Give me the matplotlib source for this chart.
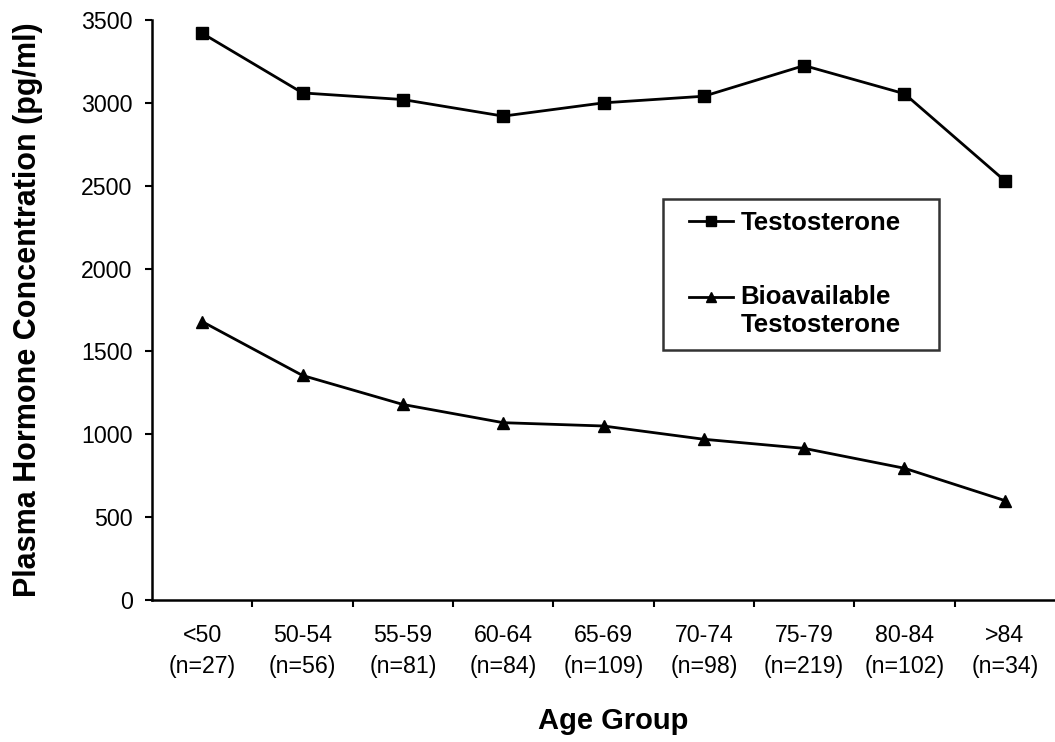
import numpy as np
import matplotlib.pyplot as plt
from matplotlib.legend_handler import HandlerLine2D

plt.rcParams['font.family'] = ['Liberation Sans', 'DejaVu Sans']

# data
age_groups = ['<50\n(n=27)', '50-54\n(n=56)', '55-59\n(n=81)', '60-64\n(n=84)',
              '65-69\n(n=109)', '70-74\n(n=98)', '75-79\n(n=219)', '80-84\n(n=102)',
              '>84\n(n=34)']
testosterone = [3420, 3060, 3020, 2920, 3000, 3040, 3225, 3055, 2530]
bioavailable = [1680, 1355, 1180, 1070, 1050, 970, 915, 795, 600]
y_ticks = [0, 500, 1000, 1500, 2000, 2500, 3000, 3500]


# legend handle that sits on the first line of a two-line label
class ShiftedLine(HandlerLine2D):
    def __init__(self, yshift=0, **kw):
        super().__init__(**kw)
        self.yshift = yshift

    def create_artists(self, legend, orig_handle, xdescent, ydescent, width,
                       height, fontsize, trans):
        arts = super().create_artists(legend, orig_handle, xdescent, ydescent,
                                      width, height, fontsize, trans)
        for a in arts:
            a.set_ydata(np.asarray(a.get_ydata()) + self.yshift)
        return arts


x = np.arange(len(age_groups))

fig = plt.figure(figsize=(10.55, 7.42), dpi=100, facecolor='white')
ax = fig.add_axes([152 / 1055, 1 - 600 / 742, 1 - 152 / 1055, 580 / 742])

l1, = ax.plot(x, testosterone, color='black', lw=2, marker='s', ms=8.5,
              label='Testosterone')
l2, = ax.plot(x, bioavailable, color='black', lw=2, marker='^', ms=8.5,
              label='Bioavailable\nTestosterone')

ax.set_xlim(-0.5, len(age_groups) - 0.5)
ax.set_ylim(0, 3500)

for s in ['top', 'right']:
    ax.spines[s].set_visible(False)
for s in ['left', 'bottom']:
    ax.spines[s].set_linewidth(1.8)

ax.set_yticks(y_ticks)
ax.set_yticklabels([str(v) for v in y_ticks], fontsize=16.7)
ax.tick_params(axis='y', direction='out', length=5, width=1.5, pad=9)

# category labels at the points, tick marks between categories
ax.set_xticks(x)
ax.set_xticklabels(age_groups, fontsize=16.7, linespacing=1.42)
ax.set_xticks(np.arange(0.5, len(age_groups) - 0.5), minor=True)
ax.tick_params(axis='x', which='major', length=0, pad=17.5)
ax.tick_params(axis='x', which='minor', direction='out', length=5, width=1.5)

ax.set_xlabel('Age Group', fontsize=21, fontweight='bold')
ax.xaxis.set_label_coords(0.5105, -0.185)
ax.set_ylabel('Plasma Hormone Concentration (pg/ml)', fontsize=22,
              fontweight='bold')
ax.yaxis.set_label_coords(-0.121, 0.5)

leg = ax.legend(handles=[l1, l2], loc='upper left',
                bbox_to_anchor=(663 / 1055, 1 - 348 / 742, 276 / 1055, 149 / 742),
                bbox_transform=fig.transFigure, mode='expand', borderaxespad=0,
                fancybox=False, frameon=True, edgecolor='black',
                prop={'size': 18.5, 'weight': 'bold'}, handlelength=2.26,
                handletextpad=0.28, labelspacing=1.95, borderpad=0.48,
                markerscale=0.8,
                handler_map={l1: HandlerLine2D(xpad=0.55),
                             l2: ShiftedLine(yshift=10.4, xpad=0.55)})
leg.get_frame().set_linewidth(1.8)

fig.savefig('out.png', dpi=100, facecolor='white')
